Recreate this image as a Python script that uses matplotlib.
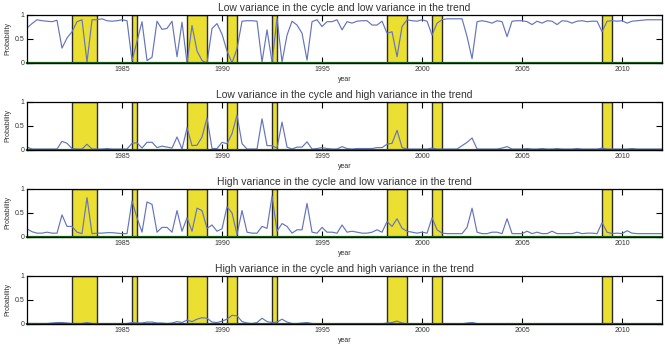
import numpy as np
import matplotlib
matplotlib.use("Agg")
import matplotlib.pyplot as plt

plt.rcParams['font.family'] = ['Liberation Sans', 'DejaVu Sans']

# quarterly smoothed probabilities, first quarter is 1980Q2
start_year = 1980.25

titles = [
    "Low variance in the cycle and low variance in the trend",
    "Low variance in the cycle and high variance in the trend",
    "High variance in the cycle and low variance in the trend",
    "High variance in the cycle and high variance in the trend",
]

p_ll = [0.73, 0.82, 0.90, 0.88, 0.87, 0.86, 0.89, 0.31, 0.52, 0.65,
        0.86, 0.90, 0.02, 0.90, 0.90, 0.92, 0.88, 0.87, 0.88, 0.90,
        0.88, 0.05, 0.45, 0.86, 0.05, 0.12, 0.87, 0.70, 0.72, 0.87,
        0.13, 0.85, 0.00, 0.78, 0.25, 0.05, 0.00, 0.72, 0.82, 0.60,
        0.25, 0.00, 0.30, 0.87, 0.88, 0.88, 0.87, 0.02, 0.69, 0.02,
        0.93, 0.02, 0.58, 0.87, 0.79, 0.62, 0.06, 0.86, 0.90, 0.76,
        0.86, 0.86, 0.90, 0.69, 0.86, 0.83, 0.87, 0.88, 0.88, 0.79,
        0.79, 0.87, 0.62, 0.65, 0.13, 0.76, 0.90, 0.88, 0.87, 0.90,
        0.87, 0.58, 0.83, 0.90, 0.92, 0.92, 0.92, 0.92, 0.55, 0.09,
        0.86, 0.88, 0.86, 0.83, 0.88, 0.86, 0.55, 0.87, 0.88, 0.88,
        0.86, 0.80, 0.87, 0.83, 0.88, 0.87, 0.80, 0.88, 0.87, 0.83,
        0.87, 0.88, 0.86, 0.87, 0.87, 0.65, 0.87, 0.88, 0.87, 0.88,
        0.83, 0.87, 0.88, 0.89, 0.90, 0.90, 0.90, 0.90]

p_lh = [0.06, 0.02, 0.02, 0.02, 0.02, 0.02, 0.02, 0.18, 0.14, 0.03,
        0.02, 0.02, 0.12, 0.02, 0.02, 0.02, 0.03, 0.02, 0.02, 0.02,
        0.02, 0.14, 0.15, 0.04, 0.16, 0.16, 0.05, 0.08, 0.06, 0.04,
        0.27, 0.02, 0.46, 0.09, 0.10, 0.27, 0.67, 0.03, 0.03, 0.16,
        0.13, 0.34, 0.73, 0.13, 0.02, 0.02, 0.02, 0.65, 0.09, 0.09,
        0.04, 0.58, 0.06, 0.02, 0.06, 0.06, 0.17, 0.02, 0.03, 0.05,
        0.03, 0.02, 0.02, 0.07, 0.03, 0.02, 0.03, 0.03, 0.03, 0.03,
        0.05, 0.05, 0.12, 0.14, 0.41, 0.05, 0.02, 0.02, 0.02, 0.02,
        0.02, 0.04, 0.02, 0.02, 0.02, 0.02, 0.02, 0.09, 0.16, 0.25,
        0.02, 0.02, 0.02, 0.02, 0.02, 0.04, 0.07, 0.02, 0.02, 0.02,
        0.03, 0.02, 0.02, 0.03, 0.02, 0.02, 0.03, 0.02, 0.02, 0.02,
        0.03, 0.02, 0.02, 0.02, 0.02, 0.04, 0.02, 0.02, 0.02, 0.02,
        0.02, 0.03, 0.02, 0.02, 0.02, 0.02, 0.02, 0.02]

p_hl = [0.17, 0.11, 0.08, 0.08, 0.10, 0.08, 0.08, 0.46, 0.22, 0.22,
        0.10, 0.07, 0.82, 0.07, 0.08, 0.08, 0.09, 0.09, 0.08, 0.07,
        0.07, 0.75, 0.40, 0.10, 0.73, 0.68, 0.10, 0.20, 0.20, 0.10,
        0.55, 0.12, 0.40, 0.12, 0.60, 0.55, 0.18, 0.25, 0.12, 0.17,
        0.63, 0.50, 0.05, 0.55, 0.10, 0.08, 0.08, 0.22, 0.18, 0.85,
        0.12, 0.28, 0.22, 0.08, 0.15, 0.15, 0.70, 0.10, 0.08, 0.20,
        0.10, 0.10, 0.08, 0.25, 0.10, 0.12, 0.10, 0.08, 0.08, 0.10,
        0.15, 0.10, 0.32, 0.22, 0.38, 0.18, 0.12, 0.10, 0.08, 0.10,
        0.08, 0.40, 0.15, 0.08, 0.07, 0.07, 0.07, 0.07, 0.20, 0.60,
        0.10, 0.07, 0.07, 0.10, 0.10, 0.07, 0.38, 0.07, 0.07, 0.07,
        0.12, 0.07, 0.10, 0.07, 0.07, 0.12, 0.07, 0.07, 0.07, 0.07,
        0.10, 0.07, 0.08, 0.08, 0.07, 0.30, 0.10, 0.07, 0.08, 0.07,
        0.13, 0.08, 0.07, 0.07, 0.07, 0.07, 0.07, 0.07]

p_hh = [0.01, 0.01, 0.01, 0.01, 0.01, 0.02, 0.03, 0.03, 0.02, 0.01,
        0.01, 0.01, 0.03, 0.01, 0.005, 0.005, 0.005, 0.005, 0.005, 0.005,
        0.01, 0.03, 0.02, 0.02, 0.04, 0.04, 0.02, 0.02, 0.01, 0.02,
        0.05, 0.03, 0.08, 0.05, 0.10, 0.13, 0.12, 0.04, 0.03, 0.06,
        0.10, 0.18, 0.17, 0.05, 0.02, 0.01, 0.03, 0.12, 0.05, 0.03,
        0.04, 0.10, 0.04, 0.01, 0.01, 0.02, 0.03, 0.01, 0.005, 0.005,
        0.005, 0.005, 0.005, 0.005, 0.005, 0.005, 0.005, 0.005, 0.005, 0.005,
        0.005, 0.005, 0.02, 0.03, 0.06, 0.02, 0.005, 0.005, 0.005, 0.005,
        0.005, 0.005, 0.005, 0.005, 0.005, 0.005, 0.005, 0.005, 0.02, 0.03,
        0.01, 0.005, 0.005, 0.005, 0.005, 0.005, 0.01, 0.005, 0.005, 0.005,
        0.005, 0.005, 0.005, 0.005, 0.005, 0.005, 0.005, 0.005, 0.005, 0.005,
        0.005, 0.005, 0.005, 0.005, 0.005, 0.01, 0.005, 0.005, 0.005, 0.005,
        0.005, 0.005, 0.005, 0.005, 0.005, 0.005, 0.005, 0.005]

# recession periods (shaded)
rec_start = [1982.5, 1985.5, 1988.25, 1990.25, 1992.5, 1998.25, 2000.5, 2009.0]
rec_end = [1983.75, 1985.75, 1989.25, 1990.75, 1992.75, 1999.25, 2001.0, 2009.5]

xticks = [1985, 1990, 1995, 2000, 2005, 2010]

series = [p_ll, p_lh, p_hl, p_hh]
bottoms = [0.819, 0.569, 0.319, 0.069]

fig = plt.figure(figsize=(6.65, 3.48), dpi=100)

for i in range(4):
    ax = fig.add_axes([0.0406, bottoms[i], 0.955, 0.138])
    vals = series[i]
    t = start_year + 0.25 * np.arange(len(vals))

    for a, b in zip(rec_start, rec_end):
        ax.axvspan(a, b, facecolor='#ebe032', edgecolor='#2a2a2a',
                   linewidth=1.0, zorder=1)

    ax.plot(t, vals, color='#6574bd', linewidth=0.85, zorder=3)
    ax.plot([start_year, 2012.0], [0, 0], color='#0d6e0d', linewidth=1.6,
            zorder=4, clip_on=False)

    ax.set_xlim(start_year, 2012.0)
    ax.set_ylim(0, 1)
    ax.set_xticks(xticks)
    ax.set_yticks([0, 0.5, 1])
    ax.set_yticklabels(['0', '0.5', '1'])
    ax.tick_params(direction='in', top=True, right=True, length=4,
                   width=0.8, labelsize=5, pad=2, labelcolor='#333333')
    for s in ax.spines.values():
        s.set_linewidth(0.9)
        s.set_zorder(5)

    ax.set_title(titles[i], fontsize=7.5, pad=3, color='#333333')
    ax.set_xlabel('year', fontsize=5, labelpad=2, color='#333333')
    ax.set_ylabel('Probability', fontsize=5, labelpad=2, color='#333333')

fig.savefig('out.png', dpi=100)
